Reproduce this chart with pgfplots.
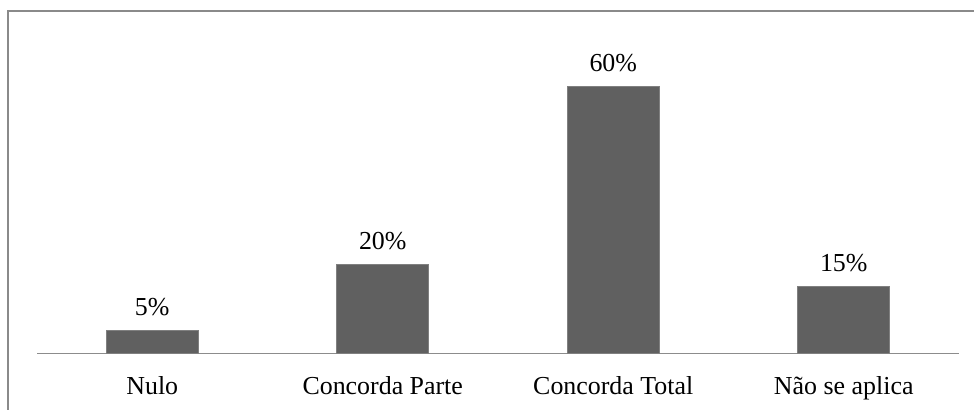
\documentclass[border=0pt]{standalone}
\usepackage{fontspec}
\setmainfont{Liberation Serif}
\usepackage{pgfplots}
\pgfplotsset{compat=1.18}
\definecolor{barfill}{HTML}{606060}
\definecolor{frameline}{HTML}{8A8A8A}
\definecolor{axisline}{HTML}{8C8C8C}
\begin{document}
\begin{tikzpicture}[x=1bp,y=1bp]
\begin{axis}[
  at={(37bp,57bp)}, anchor=south west,
  scale only axis,
  width=922bp, height=289.25bp,
  xmin=-0.5, xmax=3.5, ymin=0, ymax=65,
  axis y line=none,
  axis x line=bottom,
  x axis line style={-, draw=axisline, line width=1bp},
  xtick={0,1,2,3},
  xticklabels={Nulo, Concorda Parte, Concorda Total, Não se aplica},
  major tick length=0pt,
  xticklabel style={font=\fontsize{26}{30}\selectfont, yshift=-20bp},
  /pgf/number format/assume math mode=true,
  nodes near coords={\pgfmathprintnumber{\pgfplotspointmeta}\%},
  every node near coord/.append style={font=\fontsize{26}{30}\selectfont, yshift=11bp, text=black},
  clip=false,
]
\addplot[ybar, bar width=92bp, fill=barfill, draw=black!50, line width=0.6bp]
  coordinates {(0,5) (1,20) (2,60) (3,15)};
\end{axis}
\draw[frameline, line width=2bp] (8bp,0bp) -- (8bp,399bp) -- (974bp,399bp);
\pgfresetboundingbox
\useasboundingbox (0,0) rectangle (974bp,410bp);
\end{tikzpicture}
\end{document}
